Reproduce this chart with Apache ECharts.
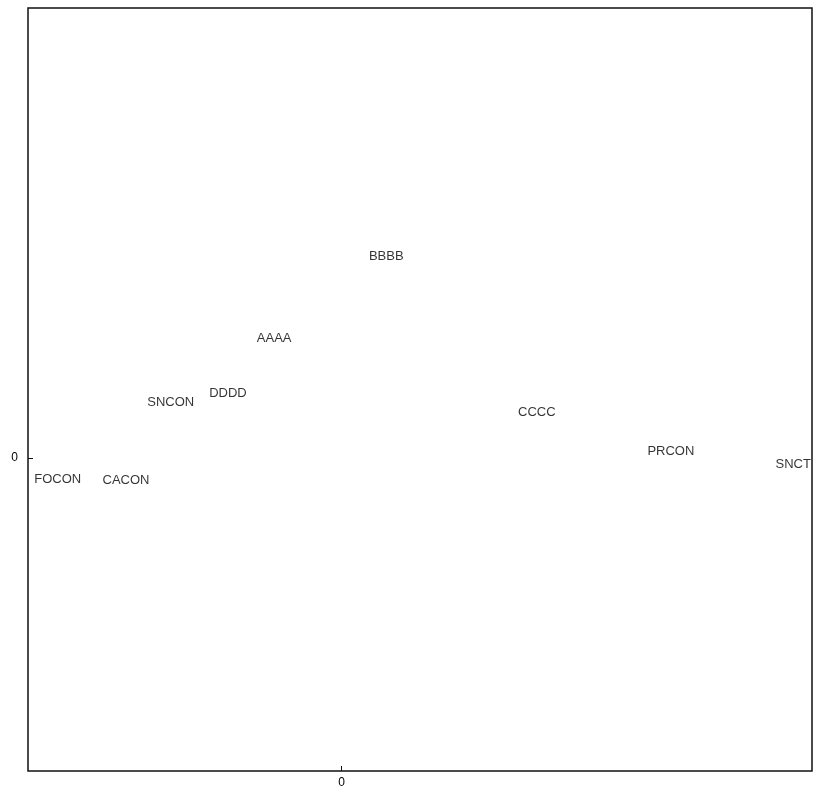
<!DOCTYPE html>
<html>
<head>
<meta charset="utf-8">
<script src="https://cdn.jsdelivr.net/npm/echarts@6/dist/echarts.min.js"></script>
<style>
  html, body { margin: 0; padding: 0; background: #fff; }
  #chart { width: 814px; height: 789px; }
</style>
</head>
<body>
<div id="chart"></div>
<script>
// Point labels and their coordinates on the two dimensions
const labels = ['BBBB', 'AAAA', 'SNCON', 'DDDD', 'CCCC', 'PRCON', 'SNCT', 'FOCON', 'CACON'];
const dim1 = [0.057, -0.086, -0.218, -0.145, 0.249, 0.420, 0.576, -0.362, -0.275];
const dim2 = [0.267, 0.159, 0.076, 0.087, 0.063, 0.011, -0.006, -0.025, -0.027];

// Only the origin is marked on each axis
const tickValues = [0];

const points = labels.map((name, i) => [dim1[i], dim2[i], name]);

const chart = echarts.init(document.getElementById('chart'), null, { renderer: 'canvas' });

const axisCommon = {
  type: 'value',
  splitLine: { show: false },
  axisLine: { show: false, onZero: false },
  axisTick: {
    show: true,
    inside: true,
    length: 5,
    customValues: tickValues,
    lineStyle: { color: '#111', width: 1 }
  },
  axisLabel: {
    show: true,
    customValues: tickValues,
    color: '#000',
    fontFamily: 'Liberation Sans, Arial, sans-serif',
    fontSize: 12
  }
};

chart.setOption({
  animation: false,
  backgroundColor: '#fff',
  grid: {
    left: 28,
    right: 2,
    top: 8,
    bottom: 17,
    show: true,
    borderColor: '#111',
    borderWidth: 1.5,
    backgroundColor: 'transparent'
  },
  xAxis: Object.assign({}, axisCommon, {
    min: -0.4,
    max: 0.6,
    axisLabel: Object.assign({}, axisCommon.axisLabel, { margin: 6 })
  }),
  yAxis: Object.assign({}, axisCommon, {
    min: -0.41,
    max: 0.59,
    axisLabel: Object.assign({}, axisCommon.axisLabel, { margin: 10 })
  }),
  series: [{
    type: 'scatter',
    symbolSize: 0,
    data: points,
    label: {
      show: true,
      position: 'inside',
      offset: [0, 2],
      formatter: p => p.value[2],
      color: '#000',
      fontFamily: 'Liberation Sans, Arial, sans-serif',
      fontSize: 13
    }
  }]
});
</script>
</body>
</html>
